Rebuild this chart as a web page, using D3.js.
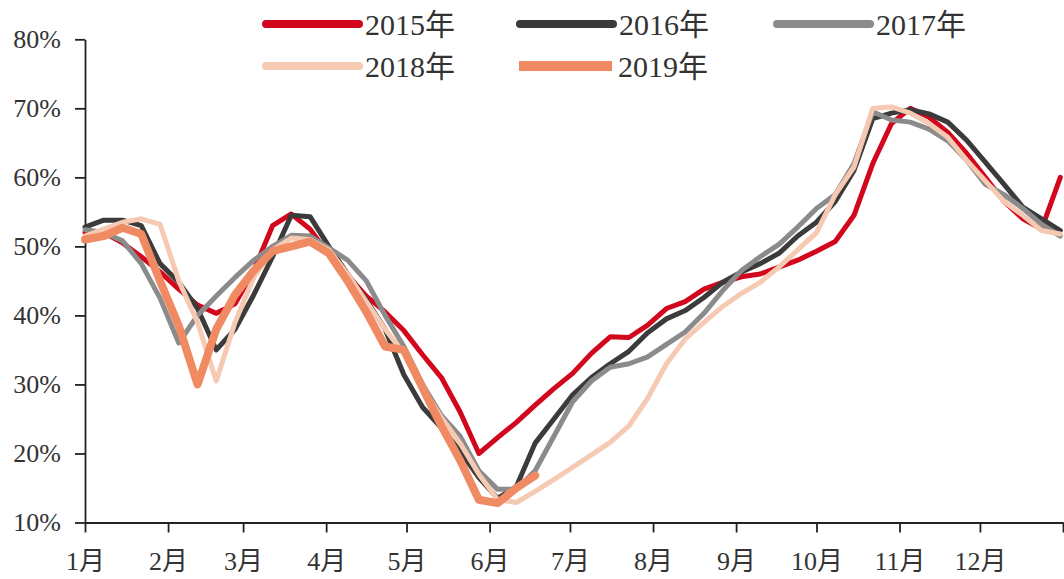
<!DOCTYPE html>
<html><head><meta charset="utf-8">
<script src="https://cdn.jsdelivr.net/npm/d3@7"></script>
<style>
body{margin:0;background:#fff}
svg text{font-family:"Liberation Serif","Noto Sans CJK SC",serif;fill:#333}
</style>
</head><body>
<svg id="c" width="1064" height="579"></svg>
<script>
// ---- data ----
const weeks = [0,1,2,3,4,5,6,7,8,9,10,11,12,13,14,15,16,17,18,19,20,21,22,23,24,25,26,27,28,29,30,31,32,33,34,35,36,37,38,39,40,41,42,43,44,45,46,47,48,49,50,51,52];
const monthLabels = ["1月","2月","3月","4月","5月","6月","7月","8月","9月","10月","11月","12月",""];
const monthStartDays = [0,31,59,90,120,151,181,212,243,273,304,334,365];
const yTicks = [10,20,30,40,50,60,70,80];
const seriesNames = ["2015年","2016年","2017年","2018年","2019年"];

const v2015 = [52,52,50.5,48.5,46.3,43.8,41.5,40.3,41.7,46.5,53,54.7,52.5,48.8,45.8,42.8,40.5,37.8,34.3,31,26,20,22.3,24.5,27,29.4,31.6,34.5,36.9,36.8,38.6,41,42,43.8,44.8,45.6,46,47,48,49.3,50.7,54.5,62,67.8,70,68.7,66.5,63.5,60,56.5,54,52.5,60];
const v2016 = [52.8,53.8,53.8,53,47.5,44.8,41,35,38,43,48.5,54.5,54.3,50,46,42.2,38,31.4,26.7,23.7,20.3,16.5,13.5,15.2,21.5,25,28.5,31,33,34.8,37.5,39.5,40.7,42.6,44.8,46.3,47.5,49,51.5,53.5,56.5,61,68.5,69.3,69.8,69.2,68,65.4,62.2,59,55.7,54,52.3];
const v2017 = [52.4,52,50.8,47.5,42.5,36,40,42.8,45.5,48,50,51.6,51.5,49.8,48,45,40,35.5,30,25.5,22.5,17.5,14.8,14.8,17.5,22.5,27.5,30.5,32.5,33,34,35.8,37.6,40.3,43.6,46.5,48.5,50.3,52.8,55.5,57.5,62,69.5,68.3,68,67,65.3,62.5,59,57.5,55.5,53.2,51.5];
const v2018 = [51.5,52.5,53.5,54,53.2,45,39,30.5,39,45.5,49.5,51.2,51,49.5,46,42,38,34.5,29.5,25.2,21.5,17,13.3,12.9,14.5,16.2,18,19.8,21.6,24,28,33,36.6,39,41.3,43.2,44.8,47,49.5,52,57.5,61.5,70,70.2,69.3,67.8,65.8,62.5,59.5,56.5,54.5,52.3,51.8];
const v2019 = [51,51.5,52.7,51.8,45,38.5,30,38,43,46.5,49.3,50,50.7,49,45,40.5,35.5,35,29.5,24,19,13.3,12.8,15,16.8];

const colors = ["#d2061c","#3b3b3b","#8b8b8b","#f6c9b3","#ef8a63"];
const widths = [5,5,5,5,8];
const allValues = [v2015,v2016,v2017,v2018,v2019];

// ---- chart ----
const svg = d3.select("#c");
const x = d3.scaleLinear().domain([0,365]).range([85,1063]);
const y = d3.scaleLinear().domain([10,80]).range([522.5,39.3]);
const FS = 26;

const gx = svg.append("g").attr("transform","translate(0,"+y(10)+")")
  .call(d3.axisBottom(x).tickValues(monthStartDays).tickFormat((d,i)=>monthLabels[i]).tickSize(10).tickSizeOuter(0).tickPadding(19));
gx.selectAll("text").style("font-size",FS+"px").attr("fill","#333");
gx.selectAll("line,path").attr("stroke","#222").attr("stroke-width",1.8);

const gy = svg.append("g").attr("transform","translate("+x(0)+",0)")
  .call(d3.axisLeft(y).tickValues(yTicks).tickFormat(d=>d+"%").tickSize(10).tickSizeOuter(0).tickPadding(14));
gy.selectAll("text").style("font-size",FS+"px").attr("fill","#333");
gy.selectAll("line,path").attr("stroke","#222").attr("stroke-width",1.8);

const line = d3.line().x((d,i)=>x(weeks[i]*7)).y(d=>y(d));
allValues.forEach((vals,k)=>{
  svg.append("path").datum(vals).attr("d",line)
    .attr("fill","none").attr("stroke",colors[k]).attr("stroke-width",widths[k])
    .attr("stroke-linejoin","round").attr("stroke-linecap","round");
});

// legend
const legPos = [[266,24],[520,24],[777,24],[266,66],[519,66]];
seriesNames.forEach((name,k)=>{
  const [lx,ly] = legPos[k];
  svg.append("line").attr("x1",lx).attr("x2",lx+93).attr("y1",ly).attr("y2",ly)
    .attr("stroke",colors[k]).attr("stroke-width",k===4?10:8).attr("stroke-linecap",k===4?"butt":"round");
  svg.append("text").attr("x",lx+99).attr("y",ly+11).style("font-size","30px").text(name);
});
</script>
</body></html>
